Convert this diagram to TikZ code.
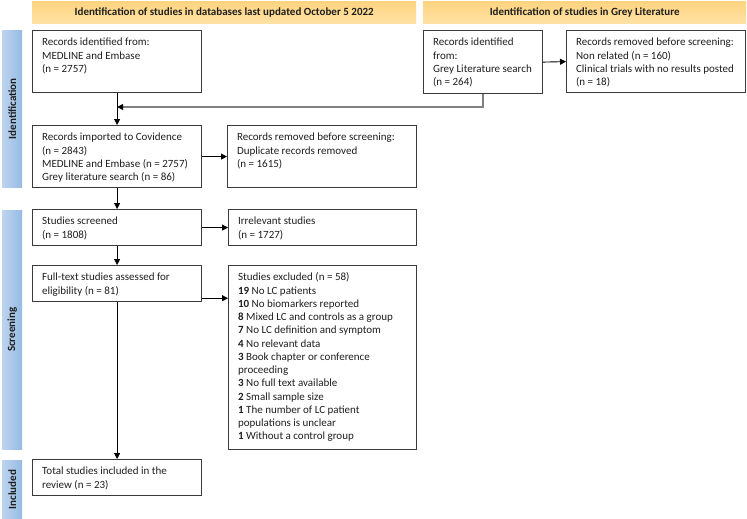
\documentclass[tikz,border=0pt]{standalone}
\usepackage{fontspec}
\setmainfont{Carlito}
\usetikzlibrary{arrows.meta,calc}
\definecolor{hdrtop}{HTML}{FFD47E}
\definecolor{hdrbot}{HTML}{FFE2A6}
\definecolor{barL}{HTML}{BDD4EF}
\definecolor{barR}{HTML}{96BAE4}
\definecolor{bordc}{HTML}{3A3A3A}
\definecolor{txtc}{HTML}{1E1E1E}
\definecolor{greyln}{HTML}{808080}
\newcommand\flowbox[6]{%
  \node[fbox, anchor=north west] (#1) at (#2,#3)
    {\parbox[c][\dimexpr #5pt-12pt\relax][t]{\dimexpr #4pt-19pt\relax}{\raggedright\strut #6}};}
\begin{document}
\begin{tikzpicture}[x=1pt,y=-1pt,
  fbox/.style={draw=bordc, line width=1.2pt, inner xsep=9.5pt, inner ysep=6pt,
    text=txtc, font=\fontsize{11}{13.25}\selectfont},
  hdrbox/.style={top color=hdrtop, bottom color=hdrbot, draw=none, inner sep=0pt,
    font=\fontsize{11}{13}\selectfont\bfseries, text=txtc},
  sidebar/.style={left color=barL, right color=barR, draw=none, inner sep=0pt, minimum width=20pt},
  sidelabel/.style={font=\fontsize{11}{13}\selectfont\bfseries, text=txtc, inner sep=0pt},
  arr/.style={draw=black, line width=0.9pt, -{Triangle[length=6pt,width=6pt]}},
  greyarr/.style={draw=greyln, line width=1.3pt, -{Triangle[length=6pt,width=6pt,color=black]}}
]
\useasboundingbox (0,0) rectangle (747,519);

% headers
\node[hdrbox, anchor=north west, minimum width=384pt, minimum height=22pt] (h1) at (32,1)
  {Identification of studies in databases last updated October 5 2022};
\node[hdrbox, anchor=north west, minimum width=323pt, minimum height=22pt] (h2) at (423,1)
  {Identification of studies in Grey Literature};

% side bars
\node[sidebar, anchor=north west, minimum height=157pt] (s1) at (2,30) {};
\node[sidelabel, rotate=90] (s1t) at (s1.center) {Identification};
\node[sidebar, anchor=north west, minimum height=239pt] (s2) at (2,210) {};
\node[sidelabel, rotate=90] (s2t) at (s2.center) {Screening};
\node[sidebar, anchor=north west, minimum height=59pt] (s3) at (2,460) {};
\node[sidelabel, rotate=90] (s3t) at (s3.center) {Included};

% boxes
\flowbox{A}{32}{30}{169}{62}{Records identified from:\\MEDLINE and Embase\\(n = 2757)}
\flowbox{B}{423}{30}{119}{63}{Records identified\\from:\\Grey Literature search\\(n = 264)}
\flowbox{R}{566}{30}{179}{62}{Records removed before screening:\\Non related (n = 160)\\Clinical trials with no results posted\\(n = 18)}
\flowbox{C}{32}{125}{169}{62}{Records imported to Covidence\\(n = 2843)\\MEDLINE and Embase (n = 2757)\\Grey literature search (n = 86)}
\flowbox{D}{227}{125}{189}{62}{Records removed before screening:\\Duplicate records removed\\(n = 1615)}
\flowbox{E}{32}{209}{169}{36}{Studies screened\\(n = 1808)}
\flowbox{F}{228}{209}{188}{36}{Irrelevant studies\\(n = 1727)}
\flowbox{G}{32}{265}{169}{36}{Full-text studies assessed for\\eligibility (n = 81)}
\flowbox{H}{228}{265}{188}{184}{Studies excluded (n = 58)\\
\textbf{19} No LC patients\\
\textbf{10} No biomarkers reported\\
\textbf{8} Mixed LC and controls as a group\\
\textbf{7} No LC definition and symptom\\
\textbf{4} No relevant data\\
\textbf{3} Book chapter or conference\\
proceeding\\
\textbf{3} No full text available\\
\textbf{2} Small sample size\\
\textbf{1} The number of LC patient\\
populations is unclear\\
\textbf{1} Without a control group}
\flowbox{I}{32}{459}{169}{36}{Total studies included in the\\review (n = 23)}

% connectors
\coordinate (m) at (A.south |- 0,107);
\draw[arr] (A.south) -- (C.north);
\draw[greyarr] (B.south) |- (m);
\draw[arr] (B.east) -- (R.west);
\draw[arr] (C.east) -- (D.west);
\draw[arr] (C.south) -- (E.north);
\draw[arr] (E.east) -- (F.west);
\draw[arr] (E.south) -- (G.north);
\draw[arr] ([yshift=4pt]G.south east) -- ([yshift=4pt]G.south east -| H.west);
\draw[arr] (G.south) -- (I.north);
\end{tikzpicture}
\end{document}
